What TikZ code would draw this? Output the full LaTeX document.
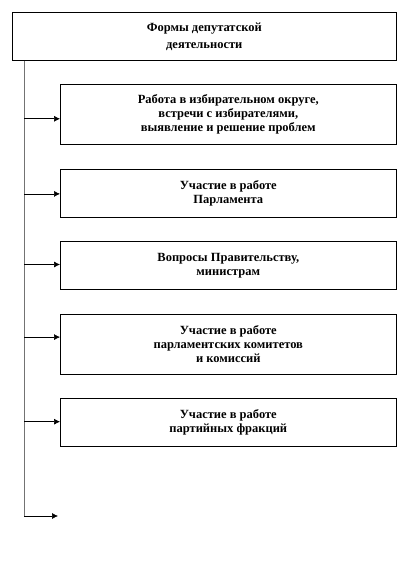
\documentclass[tikz,border=0pt]{standalone}
\usepackage{fontspec}
\setmainfont{Liberation Serif}
\usetikzlibrary{positioning,arrows.meta}
\tikzset{
  formbox/.style={draw,line width=0.6pt,minimum width=336pt,minimum height=48pt,inner sep=2pt,
    align=center,font=\bfseries\fontsize{12.5}{14}\selectfont},
  feed/.style={-{Latex[length=6pt,width=6pt]},line width=0.6pt}
}
\begin{document}
\begin{tikzpicture}
\useasboundingbox (0,0) rectangle (408pt,564pt);
% head box
\node[formbox,minimum width=384pt,anchor=north west,font=\bfseries\fontsize{12.5}{17}\selectfont] (forms) at (12pt,552pt) {Формы депутатской\\деятельности};
% kinds of work
\node[formbox,minimum height=60pt,anchor=north west] (okrug) at (60pt,480pt) {Работа в избирательном округе,\\встречи с избирателями,\\выявление  и решение проблем};
\node[formbox,below=24pt of okrug] (parl) {Участие в работе\\Парламента};
\node[formbox,below=24pt of parl] (vopr) {Вопросы  Правительству,\\министрам};
\node[formbox,minimum height=60pt,below=24pt of vopr] (komit) {Участие в работе\\парламентских комитетов\\и комиссий};
\node[formbox,below=24pt of komit] (frak) {Участие в работе\\партийных фракций};
% trunk
\coordinate (trunk) at ([xshift=12pt]forms.south west);
\coordinate (trunkend) at (24pt,48pt);
\coordinate (spare) at (58pt,48pt);
\draw[line width=0.8pt,black!55] (trunk) -- (trunkend);
\foreach \n/\dy in {okrug/-4.5pt,parl/-1pt,vopr/1pt,komit/7pt,frak/1pt}
  \draw[feed] ([yshift=\dy]trunk |- \n.west) -- ([yshift=\dy]\n.west);
\draw[feed] (trunkend) -- (spare);
\end{tikzpicture}
\end{document}
